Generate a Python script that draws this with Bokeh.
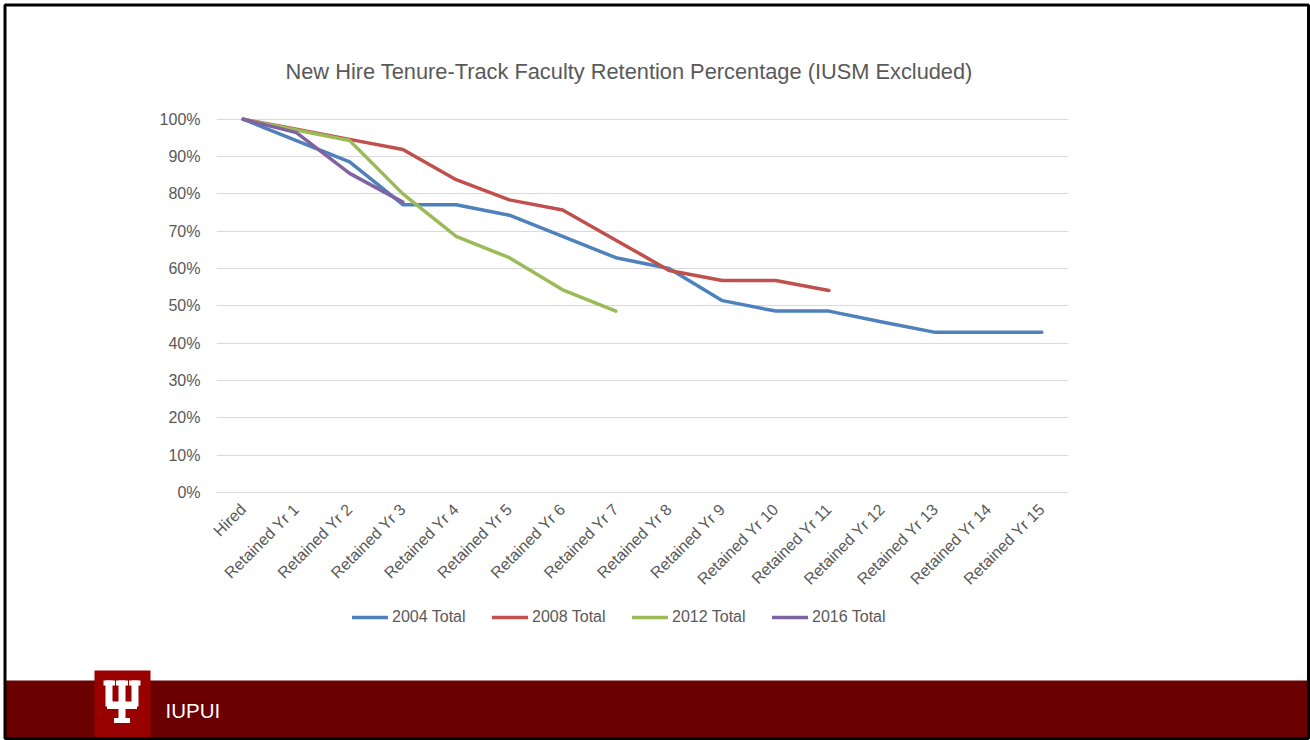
import math
from bokeh.plotting import figure
from bokeh.models import (FactorRange, Range1d, FixedTicker, NumeralTickFormatter,
                          Legend, LegendItem, ColumnDataSource)
from bokeh.core.properties import value
from bokeh.embed import file_html
from bokeh.resources import INLINE

# ---------------- data ----------------
categories = ["Hired", "Retained Yr 1", "Retained Yr 2", "Retained Yr 3", "Retained Yr 4",
              "Retained Yr 5", "Retained Yr 6", "Retained Yr 7", "Retained Yr 8",
              "Retained Yr 9", "Retained Yr 10", "Retained Yr 11", "Retained Yr 12",
              "Retained Yr 13", "Retained Yr 14", "Retained Yr 15"]
y_ticks = [0.0, 0.1, 0.2, 0.3, 0.4, 0.5, 0.6, 0.7, 0.8, 0.9, 1.0]
retention_2004 = [1.000, 0.943, 0.886, 0.771, 0.771, 0.743, 0.686, 0.629, 0.600,
                  0.514, 0.486, 0.486, 0.457, 0.429, 0.429, 0.429]
retention_2008 = [1.000, 0.973, 0.946, 0.919, 0.838, 0.784, 0.757, 0.676, 0.595,
                  0.568, 0.568, 0.541]
retention_2012 = [1.000, 0.971, 0.943, 0.800, 0.686, 0.629, 0.543, 0.486]
retention_2016 = [1.000, 0.964, 0.855, 0.778]
series_names = ["2004 Total", "2008 Total", "2012 Total", "2016 Total"]
series_values = [retention_2004, retention_2008, retention_2012, retention_2016]
series_colors = ["#4F81BD", "#C0504D", "#9BBB59", "#8064A2"]

title_text = "New Hire Tenure-Track Faculty Retention Percentage (IUSM Excluded)"
footer_text = "IUPUI"

# IU trident logo pieces (decoration, pixel rectangles: x0, x1, y0, y1)
logo_rects = [(103, 114.5, 680, 685), (115.5, 127.5, 680, 685), (128.5, 140, 680, 685),
              (105, 112, 680, 706), (131, 138, 680, 706),
              (106.5, 136.5, 701, 708.5), (118, 125, 680, 722), (113.5, 129.5, 717.5, 722.5)]

# ---------------- layout ----------------
W, H = 1310, 740
FL, FR, FT, FB = 216, 1068, 115, 492
YMAX = 1.01
TEXT = "#595959"
FONT = "Liberation Sans"

p = figure(width=W, height=H, output_backend="svg", toolbar_location=None,
           x_range=FactorRange(factors=categories), y_range=Range1d(0, YMAX),
           min_border_left=FL, min_border_right=W - FR,
           min_border_top=FT, min_border_bottom=H - FB)
p.outline_line_color = None
p.background_fill_color = "white"
p.border_fill_color = "white"

p.title.text = title_text
p.title.align = "left"
p.title.offset = 69
p.title.standoff = 63
p.title.text_font = FONT
p.title.text_font_size = "21.8px"
p.title.text_font_style = "normal"
p.title.text_color = TEXT

p.xgrid.grid_line_color = None
p.ygrid.ticker = FixedTicker(ticks=y_ticks)
p.ygrid.grid_line_color = "#D9D9D9"
p.ygrid.grid_line_width = 1

p.yaxis.ticker = FixedTicker(ticks=y_ticks)
p.yaxis.formatter = NumeralTickFormatter(format="0%")
p.yaxis.axis_line_color = None
p.yaxis.major_tick_line_color = None
p.yaxis.major_tick_out = 0
p.yaxis.minor_tick_line_color = None
p.yaxis.minor_tick_out = 0
p.yaxis.major_label_standoff = 16
p.yaxis.major_label_text_font = FONT
p.yaxis.major_label_text_font_size = "16px"
p.yaxis.major_label_text_color = TEXT

p.xaxis.axis_line_color = "#D9D9D9"
p.xaxis.axis_line_width = 1
p.xaxis.major_tick_line_color = None
p.xaxis.major_tick_out = 0
p.xaxis.minor_tick_line_color = None
p.xaxis.major_label_orientation = math.pi / 4
p.xaxis.major_label_standoff = 14
p.xaxis.major_label_text_font = FONT
p.xaxis.major_label_text_font_size = "16px"
p.xaxis.major_label_text_color = TEXT

for name, vals, col in zip(series_names, series_values, series_colors):
    p.line(categories[:len(vals)], vals, line_color=col, line_width=3.5,
           line_join="round", line_cap="round")

# ---------------- transparent overlay (legend + slide decorations) ----------------
q = figure(width=W, height=H, output_backend="svg", toolbar_location=None,
           x_range=Range1d(0, W), y_range=Range1d(H, 0),
           min_border=0, min_border_left=0, min_border_right=0,
           min_border_top=0, min_border_bottom=0,
           styles={"position": "absolute", "left": "0px", "top": "0px"})
q.axis.visible = False
q.grid.visible = False
q.outline_line_color = None
q.background_fill_alpha = 0
q.border_fill_alpha = 0

items = []
for name, col in zip(series_names, series_colors):
    # off-canvas sample so the legend swatch is drawn
    r = q.line(x=[-60, -50], y=[-60, -60], line_color=col, line_width=3.5, line_cap="round")
    items.append(LegendItem(label=name, renderers=[r]))
legend = Legend(items=items, orientation="horizontal", location=(352, H - 607 - 20),
                padding=0, margin=0, spacing=4, glyph_width=36, glyph_height=20,
                label_height=20, label_width=96, label_standoff=4,
                label_text_font=FONT, label_text_font_size="16px",
                label_text_color=TEXT, background_fill_alpha=0,
                border_line_color=None)
q.add_layout(legend)

q.quad(left=[5], right=[1307], top=[680], bottom=[737], fill_color="#6B0000",
       line_color=None)
q.quad(left=[94], right=[150], top=[670], bottom=[737], fill_color="#990000",
       line_color=None)
lsrc = ColumnDataSource(dict(l=[r[0] for r in logo_rects], r=[r[1] for r in logo_rects],
                             t=[r[2] for r in logo_rects], b=[r[3] for r in logo_rects]))
q.quad(left="l", right="r", top="t", bottom="b", source=lsrc, fill_color="white",
       line_color=None)
q.text(x=[165], y=[710], text=[footer_text], text_font=value(FONT),
       text_font_size="20.5px", text_color="white", text_baseline="middle",
       text_align="left")
q.quad(left=[4.5], right=[1308], top=[4.5], bottom=[738], fill_alpha=0,
       line_color="black", line_width=3)

open("out.html", "w").write(file_html([p, q], INLINE))
